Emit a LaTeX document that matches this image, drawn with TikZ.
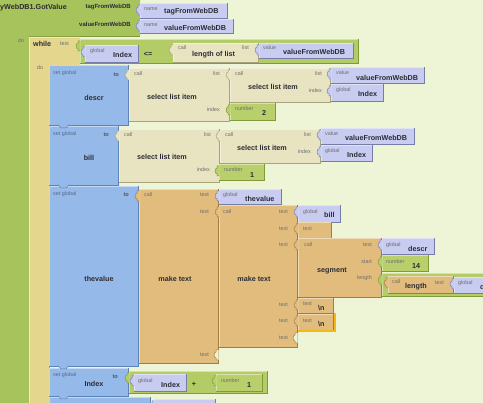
\documentclass[tikz,border=0pt]{standalone}
\usepackage{fontspec}
\setmainfont{Liberation Sans}
\newcounter{nn}
\definecolor{bg}{HTML}{EEF5D6}
\definecolor{ev}{HTML}{A7C35B}\definecolor{evd}{HTML}{7F9B3C}
\definecolor{wh}{HTML}{E5D68E}\definecolor{whd}{HTML}{B3A25E}
\definecolor{st}{HTML}{95B9E8}\definecolor{std}{HTML}{5E83B8}
\definecolor{gl}{HTML}{C8CCF0}\definecolor{gld}{HTML}{767DA6}
\definecolor{ls}{HTML}{E8E3C0}\definecolor{lsd}{HTML}{A9A37C}
\definecolor{tx}{HTML}{E2BC7D}\definecolor{txd}{HTML}{A07D43}
\definecolor{ma}{HTML}{B4CC66}\definecolor{mad}{HTML}{809A38}
\definecolor{nu}{HTML}{B8CF6B}\definecolor{nud}{HTML}{809A38}
\definecolor{hl}{HTML}{F6B614}
\definecolor{labc}{HTML}{2C2C34}
\definecolor{smc}{HTML}{6C6C6C}
\definecolor{smbc}{HTML}{55698A}
\tikzset{
 lb/.style={inner sep=0pt, font=\fontsize{7.2}{8}\selectfont\bfseries, text=labc},
 sm/.style={inner sep=0pt, font=\fontsize{5.4}{6}\selectfont, text=smc},
 smb/.style={inner sep=0pt, font=\fontsize{5.4}{6}\selectfont, text=smbc},
 tob/.style={inner sep=0pt, font=\fontsize{5.6}{6}\selectfont\bfseries, text=labc!80},
 ep/.style={inner sep=0pt, font=\fontsize{6}{7}\selectfont\bfseries, text=labc},
}
\newcommand\Lbl[4]{\stepcounter{nn}\node[#1,anchor=#2] (n\arabic{nn}) at (#3) {#4};}
\newcommand\Blk[4]{% fill, dark, x1,y1, x2,y2
 \coordinate (bA) at (#3); \coordinate (bB) at (#4);
 \fill[#1] (bA) rectangle (bB);
 \draw[#2,line width=0.6pt] (bA |- bB) -- (bB) -- (bB |- bA);
 \draw[white,opacity=0.45,line width=0.6pt] (bA |- bB) -- (bA) -- (bB |- bA);}
\newcommand\Sock[3]{\begin{scope}[shift={(#3)}]
 \fill[#1] (0.6,2) -- (-2,2) -- (-2,4) .. controls (-4.5,4) and (-4.5,10) .. (-2,10) -- (-2,12) -- (0.6,12) -- cycle;
 \draw[#2,line width=0.5pt] (0,2) -- (-2,2) -- (-2,4) .. controls (-4.5,4) and (-4.5,10) .. (-2,10) -- (-2,12) -- (0,12);
\end{scope}}
\newcommand\Notch[2]{\begin{scope}[shift={(#1,#2)}]
 \filldraw[fill=st,draw=std,line width=0.5pt] (0,-0.3) -- (3,3) -- (8,3) -- (11,-0.3);
\end{scope}}
\begin{document}
\begin{tikzpicture}[x=1pt,y=-1pt]
\useasboundingbox (0,0) rectangle (483,403);
\clip (0,0) rectangle (483,403);
\fill[bg] (0,0) rectangle (483,403);
% event block
\fill[ev] (0,0) -- (140,0) -- (140,36) -- (29,36) -- (29,403) -- (0,403) -- cycle;
\draw[evd,line width=0.6pt] (29,403) -- (29,36) -- (140,36);
\Lbl{lb}{west}{0,8}{yWebDB1.GotValue}
\Lbl{ep}{east}{131,7}{tagFromWebDB}
\Lbl{ep}{east}{131,24}{valueFromWebDB}
\Lbl{sm}{west}{18,41}{do}
\Blk{gl}{gld}{140,3}{227,18}\Sock{gl}{gld}{140,3}
\Lbl{sm}{west}{144,9}{name}\Lbl{lb}{west}{164,12}{tagFromWebDB}
\Blk{gl}{gld}{140,19}{233,33}\Sock{gl}{gld}{140,19}
\Lbl{sm}{west}{144,25}{name}\Lbl{lb}{west}{164,28}{valueFromWebDB}
% while block
\fill[wh] (29,37) -- (80,37) -- (80,65) -- (49,65) -- (49,403) -- (29,403) -- cycle;
\draw[white,opacity=0.45,line width=0.6pt] (29,403) -- (29,37) -- (80,37);
\draw[whd,line width=0.6pt] (49,403) -- (49,65);
\Lbl{lb}{west}{33,44}{while}\Lbl{sm}{west}{60,44}{test}
\Lbl{sm}{west}{37,68}{do}
% compare
\Blk{ma}{mad}{80,39}{358,63}\Sock{ma}{mad}{80,39}
\Blk{gl}{gld}{85,45}{138,62}\Sock{gl}{gld}{85,45}
\Lbl{sm}{west}{90,51}{global}\Lbl{lb}{west}{113,55}{Index}
\Lbl{lb}{center}{148,54}{<=}
\Blk{ls}{lsd}{173,43}{258,62}\Sock{ls}{lsd}{173,43}
\Lbl{sm}{west}{178,48}{call}\Lbl{lb}{west}{192,55}{length of list}\Lbl{sm}{east}{249,48}{list}
\Blk{gl}{gld}{259,43}{353,58}\Sock{gl}{gld}{259,43}
\Lbl{sm}{west}{263,48}{value}\Lbl{lb}{west}{283,52}{valueFromWebDB}
% descr
\Blk{st}{std}{49,65}{128,125}
\Lbl{smb}{west}{53,73}{set global}\Lbl{tob}{east}{119,75}{to}
\Lbl{lb}{center}{94,98}{descr}
\Blk{ls}{lsd}{129,68}{229,121}\Sock{ls}{lsd}{129,68}
\Lbl{sm}{west}{134,74}{call}\Lbl{sm}{east}{220,74}{list}
\Lbl{lb}{center}{172,97}{select list item}\Lbl{sm}{east}{220,110}{index}
\Blk{ls}{lsd}{230,68}{330,102}\Sock{ls}{lsd}{230,68}
\Lbl{sm}{west}{235,74}{call}\Lbl{sm}{east}{322,74}{list}
\Lbl{lb}{center}{273,87}{select list item}\Lbl{sm}{east}{322,91}{index}
\Blk{gl}{gld}{331,67}{424,83}\Sock{gl}{gld}{331,67}
\Lbl{sm}{west}{336,73}{value}\Lbl{lb}{west}{356,78}{valueFromWebDB}
\Blk{gl}{gld}{331,84}{383,101}\Sock{gl}{gld}{331,84}
\Lbl{sm}{west}{336,90}{global}\Lbl{lb}{west}{358,94}{Index}
\Blk{nu}{nud}{230,103}{275,120}\Sock{nu}{nud}{230,103}
\Lbl{sm}{west}{235,109}{number}\Lbl{lb}{west}{262,113}{2}
% bill
\Blk{st}{std}{49,126}{118,185}\Notch{58}{125}
\Lbl{smb}{west}{53,134}{set global}\Lbl{tob}{east}{109,135}{to}
\Lbl{lb}{center}{89,158}{bill}
\Blk{ls}{lsd}{119,129}{219,182}\Sock{ls}{lsd}{119,129}
\Lbl{sm}{west}{124,135}{call}\Lbl{sm}{east}{211,135}{list}
\Lbl{lb}{center}{162,157}{select list item}\Lbl{sm}{east}{210,170}{index}
\Blk{ls}{lsd}{220,129}{320,163}\Sock{ls}{lsd}{220,129}
\Lbl{sm}{west}{225,135}{call}\Lbl{sm}{east}{311,135}{list}
\Lbl{lb}{center}{262,148}{select list item}\Lbl{sm}{east}{311,152}{index}
\Blk{gl}{gld}{321,128}{414,144}\Sock{gl}{gld}{321,128}
\Lbl{sm}{west}{325,134}{value}\Lbl{lb}{west}{345,138}{valueFromWebDB}
\Blk{gl}{gld}{321,145}{372,161}\Sock{gl}{gld}{321,145}
\Lbl{sm}{west}{325,151}{global}\Lbl{lb}{west}{347,155}{Index}
\Blk{nu}{nud}{219,164}{264,180}\Sock{nu}{nud}{219,164}
\Lbl{sm}{west}{224,170}{number}\Lbl{lb}{west}{250,175}{1}
% thevalue
\Blk{st}{std}{49,186}{138,366}\Notch{58}{185}
\Lbl{smb}{west}{53,194}{set global}\Lbl{tob}{east}{129,195}{to}
\Lbl{lb}{center}{99,279}{thevalue}
\Blk{tx}{txd}{139,189}{218,363}\Sock{tx}{txd}{139,189}
\Lbl{sm}{west}{144,195}{call}\Lbl{lb}{center}{175,279}{make text}
\Lbl{sm}{east}{209,195}{text}\Lbl{sm}{east}{209,212}{text}\Lbl{sm}{east}{209,355}{text}
\Sock{bg}{txd}{218,348}
\Blk{gl}{gld}{219,189}{281,204}\Sock{gl}{gld}{219,189}
\Lbl{sm}{west}{223,195}{global}\Lbl{lb}{west}{245,199}{thevalue}
\Blk{tx}{txd}{219,205}{297,347}\Sock{tx}{txd}{219,205}
\Lbl{sm}{west}{223,212}{call}\Lbl{lb}{center}{254,279}{make text}
\Lbl{sm}{east}{288,212}{text}\Lbl{sm}{east}{288,229}{text}\Lbl{sm}{east}{288,245}{text}
\Lbl{sm}{east}{288,305}{text}\Lbl{sm}{east}{288,321}{text}\Lbl{sm}{east}{288,338}{text}
\Sock{bg}{txd}{297,331}
\Blk{gl}{gld}{298,205}{340,222}\Sock{gl}{gld}{298,205}
\Lbl{sm}{west}{303,212}{global}\Lbl{lb}{west}{324,215}{bill}
\Blk{tx}{txd}{298,222}{331,238}\Sock{tx}{txd}{298,222}
\Lbl{sm}{west}{303,229}{text}
\Blk{tx}{txd}{298,238}{381,297}\Sock{tx}{txd}{298,238}
\Lbl{sm}{west}{304,245}{call}\Lbl{lb}{center}{332,271}{segment}
\Lbl{sm}{east}{372,245}{text}\Lbl{sm}{east}{372,262}{start}\Lbl{sm}{east}{372,278}{length}
\Blk{gl}{gld}{382,238}{434,254}\Sock{gl}{gld}{382,238}
\Lbl{sm}{west}{386,245}{global}\Lbl{lb}{west}{408,249}{descr}
\Blk{nu}{nud}{382,255}{428,271}\Sock{nu}{nud}{382,255}
\Lbl{sm}{west}{386,262}{number}\Lbl{lb}{west}{412,266}{14}
\Blk{ma}{mad}{382,273}{495,296}\Sock{ma}{mad}{382,273}
\Blk{tx}{txd}{388,276}{453,293}\Sock{tx}{txd}{388,276}
\Lbl{sm}{west}{392,282}{call}\Lbl{lb}{center}{416,287}{length}\Lbl{sm}{east}{444,283}{text}
\Blk{gl}{gld}{454,277}{495,293}\Sock{gl}{gld}{454,277}
\Lbl{sm}{west}{458,283}{global}\Lbl{lb}{west}{480,287}{descr}
\Blk{tx}{txd}{298,298}{333,313}\Sock{tx}{txd}{298,298}
\Lbl{sm}{west}{303,304}{text}\Lbl{lb}{west}{318,308}{\textbackslash n}
\Blk{tx}{txd}{298,314}{333,330}\Sock{tx}{txd}{298,314}
\Lbl{sm}{west}{303,321}{text}\Lbl{lb}{west}{318,324}{\textbackslash n}
\draw[hl,line width=1.6pt] (298,331.2) -- (334.8,331.2) -- (334.8,313.5);
% Index
\Blk{st}{std}{49,368}{128,396}\Notch{58}{366}
\Lbl{smb}{west}{53,375}{set global}\Lbl{tob}{east}{118,377}{to}
\Lbl{lb}{center}{94,384}{Index}
\Blk{ma}{mad}{129,371}{267,393}\Sock{ma}{mad}{129,371}
\Blk{gl}{gld}{134,374}{186,391}\Sock{gl}{gld}{134,374}
\Lbl{sm}{west}{138,381}{global}\Lbl{lb}{west}{161,385}{Index}
\Lbl{lb}{center}{194,384}{+}
\Blk{nu}{nud}{216,374}{262,391}\Sock{nu}{nud}{216,374}
\Lbl{sm}{west}{221,381}{number}\Lbl{lb}{west}{247,385}{1}
% next row
\Blk{st}{std}{49,397}{150,410}\Notch{58}{396}
\Blk{gl}{gld}{154,399}{215,410}\Sock{gl}{gld}{154,399}
\end{tikzpicture}
\end{document}
